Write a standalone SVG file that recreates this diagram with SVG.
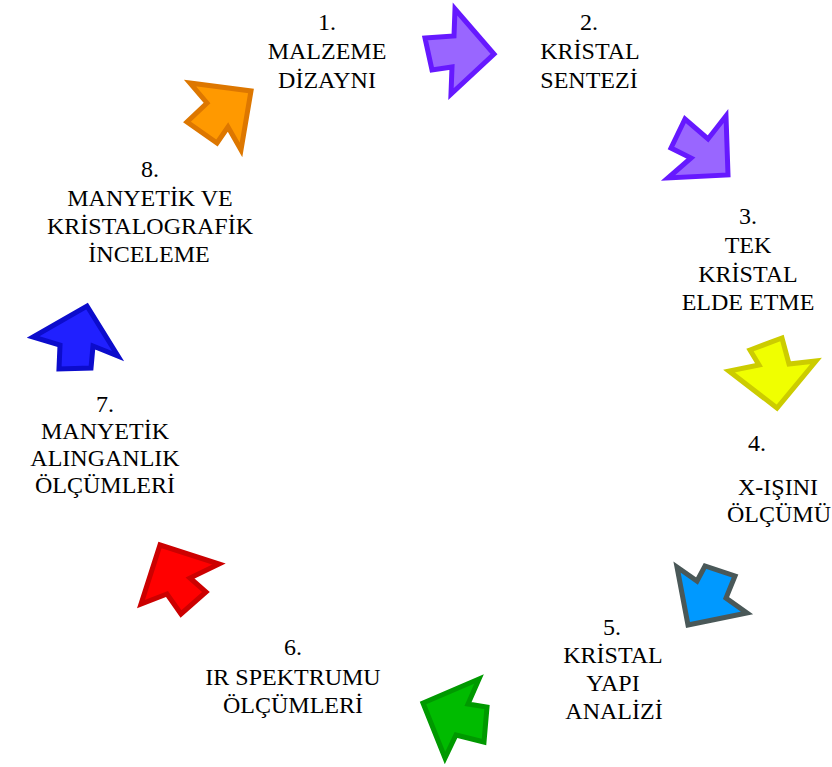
<svg xmlns="http://www.w3.org/2000/svg" width="832" height="767" viewBox="0 0 832 767">
<style>
text{font-family:"Liberation Serif","Times New Roman",serif;font-size:24px;fill:#000;text-anchor:middle}
.ar{stroke-width:5;stroke-linejoin:miter}
</style>
<rect width="832" height="767" fill="#fff"/>
<g id="connectors">
<polygon id="a1" class="ar" fill="#9966ff" stroke="#6619ff" points="425,38 454,36 455,9 494,54 451,94 452,67 432,70"/>
<polygon id="a2" class="ar" fill="#9966ff" stroke="#6619ff" points="726,116 728,175 668,178 691,158 671,148 685,119 708,139"/>
<polygon id="a3" class="ar" fill="#f0ff00" stroke="#cccc00" points="750,350 782,338 789,364 816,361 777,408 729,371 759,365"/>
<polygon id="a4" class="ar" fill="#0099ff" stroke="#4a5858" points="677,567 697,581 705,566 735,576 726,598 747,613 688,625"/>
<polygon id="a5" class="ar" fill="#00bb00" stroke="#009900" points="479,679 468,704 487,707 484,742 456,735 445,758 423,703"/>
<polygon id="a6" class="ar" fill="#ff0000" stroke="#cc0000" points="160,545 219,564 190,578 206,592 181,614 167,594 141,604"/>
<polygon id="a7" class="ar" fill="#2020ff" stroke="#0c0ccc" points="87,306 118,356 93,346 91,368 59,369 60,345 33,337"/>
<polygon id="a8" class="ar" fill="#ff9900" stroke="#dd7700" points="190,83 251,91 241,150 228,127 217,143 187,122 207,103"/>
</g>
<g id="n1"><text x="327" y="30">1.</text><text x="327" y="59">MALZEME</text><text x="327" y="88">DİZAYNI</text></g>
<g id="n2"><text x="589" y="30">2.</text><text x="590" y="59">KRİSTAL</text><text x="589" y="88">SENTEZİ</text></g>
<g id="n3"><text x="748" y="224">3.</text><text x="748" y="253">TEK</text><text x="748" y="282">KRİSTAL</text><text x="748" y="310">ELDE ETME</text></g>
<g id="n4"><text x="757" y="451">4.</text><text x="778" y="495">X-IŞINI</text><text x="779" y="522">ÖLÇÜMÜ</text></g>
<g id="n5"><text x="612" y="635">5.</text><text x="613" y="663">KRİSTAL</text><text x="613" y="691">YAPI</text><text x="614" y="719">ANALİZİ</text></g>
<g id="n6"><text x="293" y="655">6.</text><text x="293" y="685">IR SPEKTRUMU</text><text x="293" y="713">ÖLÇÜMLERİ</text></g>
<g id="n7"><text x="105" y="412">7.</text><text x="105" y="439">MANYETİK</text><text x="105" y="466">ALINGANLIK</text><text x="105" y="493">ÖLÇÜMLERİ</text></g>
<g id="n8"><text x="150" y="177">8.</text><text x="150" y="206">MANYETİK VE</text><text x="150" y="234">KRİSTALOGRAFİK</text><text x="149" y="262">İNCELEME</text></g>
</svg>
